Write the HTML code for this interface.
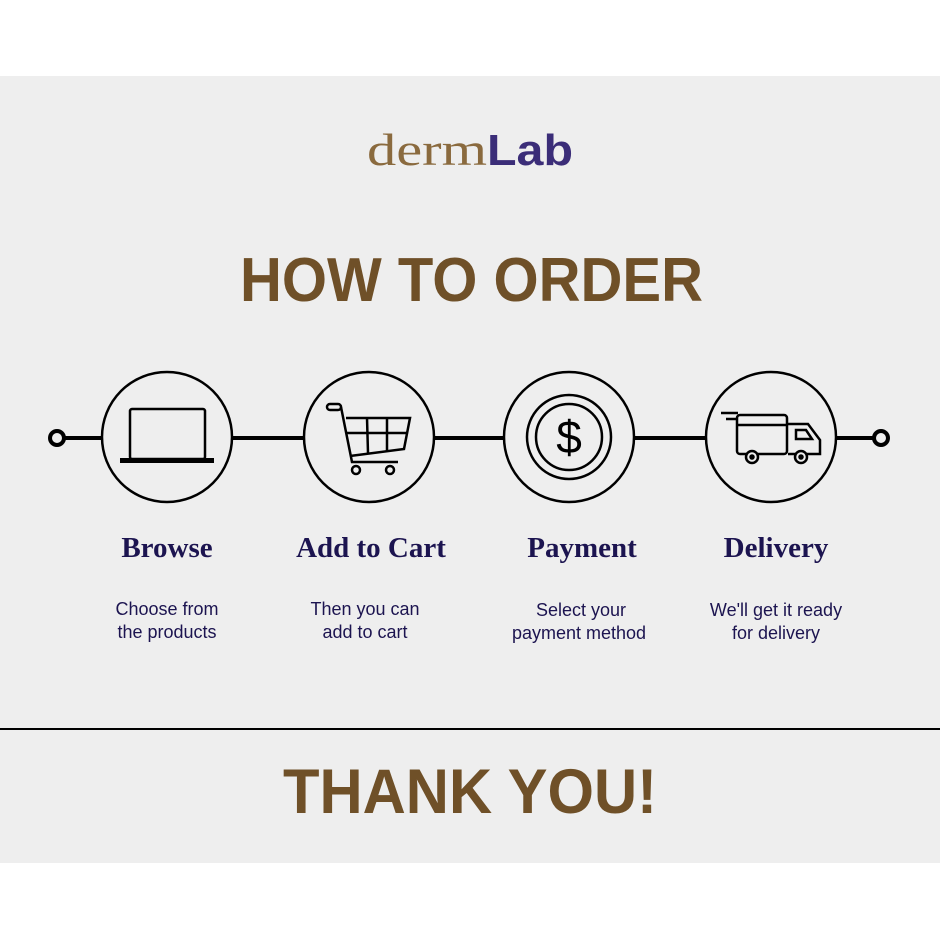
<!DOCTYPE html>
<html><head><meta charset="utf-8"><style>
html,body{margin:0;padding:0;background:#fff;width:940px;height:940px;overflow:hidden}
svg{display:block}
</style></head><body>
<svg width="940" height="940" viewBox="0 0 940 940" xmlns="http://www.w3.org/2000/svg">
<rect x="0" y="0" width="940" height="940" fill="#fff"/>
<rect x="0" y="76" width="940" height="787" fill="#eeeeee"/>
<!-- logo -->
<text x="367" y="165" font-family="Liberation Serif, serif" font-size="46" fill="#8a6a3e" textLength="120" lengthAdjust="spacingAndGlyphs">derm</text>
<text x="487" y="165" font-family="Liberation Sans, sans-serif" font-weight="bold" font-size="44" fill="#3b2d78" textLength="86" lengthAdjust="spacingAndGlyphs">Lab</text>
<!-- title -->
<text x="240" y="301" font-family="Liberation Sans, sans-serif" font-weight="bold" font-size="62" fill="#6f5028" textLength="463" lengthAdjust="spacingAndGlyphs">HOW TO ORDER</text>
<!-- timeline -->
<line x1="64" y1="438" x2="874" y2="438" stroke="#000" stroke-width="4"/>
<circle cx="57" cy="438" r="7" fill="#eee" stroke="#000" stroke-width="4"/>
<circle cx="881" cy="438" r="7" fill="#eee" stroke="#000" stroke-width="4"/>
<g fill="#eee" stroke="#000" stroke-width="2.5">
<circle cx="167" cy="437" r="65"/>
<circle cx="369" cy="437" r="65"/>
<circle cx="569" cy="437" r="65"/>
<circle cx="771" cy="437" r="65"/>
</g>
<!-- laptop -->
<g fill="none" stroke="#000" stroke-width="2.5">
<rect x="130" y="409" width="75" height="50" rx="2"/>
</g>
<rect x="120" y="458" width="94" height="5" fill="#000"/>
<!-- cart -->
<g fill="none" stroke="#000" stroke-width="2.5">
<rect x="327" y="404" width="14" height="6" rx="3"/>
<path d="M341 407 L352 462 L398 462"/>
<path d="M346 418 L410 418 L404 449 L350 456"/>
<path d="M347 433 L407 433"/>
<path d="M367 418 L368 453 M387 418 L387 451"/>
<circle cx="356" cy="470" r="4"/><circle cx="390" cy="470" r="4"/>
</g>
<!-- coin -->
<g fill="none" stroke="#000" stroke-width="2.5">
<circle cx="569" cy="437" r="42"/>
<circle cx="569" cy="437" r="33"/>
</g>
<text x="569" y="453" text-anchor="middle" font-family="Liberation Sans, sans-serif" font-size="46" fill="#000">$</text>
<!-- truck -->
<g fill="none" stroke="#000" stroke-width="2.5">
<path d="M721 413 L738 413 M726 419 L736 419"/>
<rect x="737" y="415" width="50" height="39" rx="3"/>
<path d="M737 425 L787 425"/>
<path d="M788 424 L808 424 L820 440 L820 454 L788 454"/>
<path d="M796 430 L806 430 L812 439 L796 439 Z"/>
<circle cx="752" cy="457" r="6" fill="#eee"/><circle cx="801" cy="457" r="6" fill="#eee"/>
<circle cx="752" cy="457" r="1.5" fill="#000"/><circle cx="801" cy="457" r="1.5" fill="#000"/>
</g>
<!-- headings -->
<g font-family="Liberation Serif, serif" font-weight="bold" font-size="29" fill="#1c1450" text-anchor="middle">
<text x="167" y="557">Browse</text>
<text x="371" y="557">Add to Cart</text>
<text x="582" y="557">Payment</text>
<text x="776" y="557">Delivery</text>
</g>
<g font-family="Liberation Sans, sans-serif" font-size="18" fill="#1c1450" text-anchor="middle">
<text x="167" y="615">Choose from</text>
<text x="167" y="638">the products</text>
<text x="365" y="615">Then you can</text>
<text x="365" y="638">add to cart</text>
<text x="581" y="616">Select your</text>
<text x="579" y="639">payment method</text>
<text x="776" y="616">We'll get it ready</text>
<text x="776" y="639">for delivery</text>
</g>
<line x1="0" y1="729" x2="940" y2="729" stroke="#000" stroke-width="2"/>
<text x="283" y="813" font-family="Liberation Sans, sans-serif" font-weight="bold" font-size="63" fill="#6f5028" textLength="374" lengthAdjust="spacingAndGlyphs">THANK YOU!</text>
</svg>
</body></html>
